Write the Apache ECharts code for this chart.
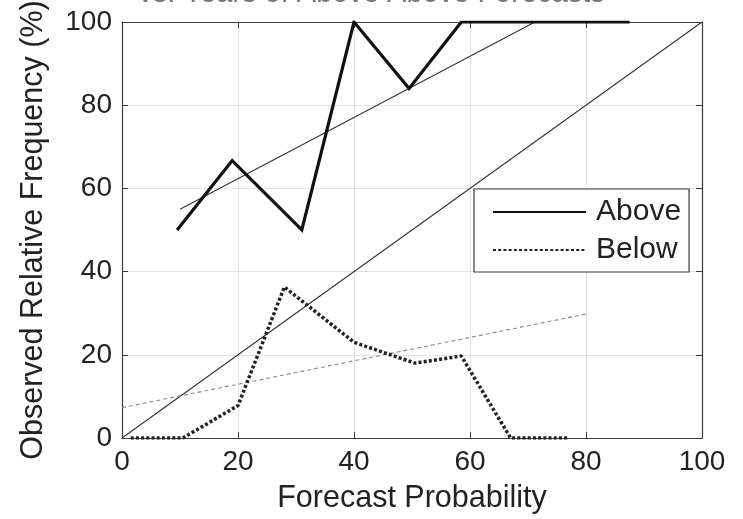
<!DOCTYPE html>
<html>
<head>
<meta charset="utf-8">
<script src="https://cdn.jsdelivr.net/npm/echarts@6/dist/echarts.min.js"></script>
<style>
  html, body { margin: 0; padding: 0; background: #fff; }
  #chart { width: 743px; height: 519px; }
</style>
</head>
<body>
<div id="chart"></div>
<script>
// Reliability curves: observed frequency against forecast probability
const titleText = 'vs. Years of Above Above Forecasts';
const xTicks = [0, 20, 40, 60, 80, 100];
const yTicks = [0, 20, 40, 60, 80, 100];

const aboveX = [9.5, 19, 31, 40, 49.5, 58.5, 70, 79, 87.5];
const aboveY = [50, 66.7, 50, 100, 84, 100, 100, 100, 100];

const belowX = [1.5, 10.5, 20, 28, 40, 50.5, 58.5, 67, 77];
const belowY = [0, 0, 7.8, 36.3, 23, 18, 19.7, 0, 0];

// fit lines (end points)
const aboveFitX = [10, 71.2];
const aboveFitY = [55, 100];
const belowFitX = [0, 80];
const belowFitY = [7.3, 29.8];

// perfect reliability diagonal
const diagX = [0, 100];
const diagY = [0, 100];

const pairs = (xs, ys) => xs.map((x, i) => [x, ys[i]]);

const FONT = 'Liberation Sans, Arial, Helvetica, sans-serif';
const chart = echarts.init(document.getElementById('chart'), null, { renderer: 'canvas' });

const baseAxis = {
  type: 'value', min: 0, max: 100, interval: 20,
  axisLine: { show: true, onZero: false, lineStyle: { color: '#3a3a3a', width: 1.2 } },
  axisTick: { show: true, inside: true, length: 6, lineStyle: { color: '#3a3a3a' } },
};

chart.setOption({
  backgroundColor: '#ffffff',
  animation: false,
  title: {
    text: titleText, left: 'center', top: -26,
    textStyle: { fontFamily: FONT, fontSize: 29, fontWeight: 'normal', color: '#777' }
  },
  grid: { left: 122, right: 41, top: 22, bottom: 81, containLabel: false, outerBoundsMode: 'none' },
  legend: {
    data: ['Above', 'Below'],
    orient: 'vertical', left: 474, top: 189,
    backgroundColor: '#fff', borderColor: '#3a3a3a', borderWidth: 1.2,
    padding: [8, 8, 7, 18], itemGap: 8, itemWidth: 93, itemHeight: 14,
    itemStyle: { color: 'transparent', borderColor: 'transparent', borderWidth: 0, opacity: 0 },
    textStyle: { fontFamily: FONT, fontSize: 30, color: '#222', lineHeight: 30, padding: [0, 0, 0, 5] },
    selectedMode: false
  },
  xAxis: [
    Object.assign({}, baseAxis, {
      position: 'bottom',
      name: 'Forecast Probability', nameLocation: 'middle', nameGap: 45,
      nameTextStyle: { fontFamily: FONT, fontSize: 30.5, color: '#222' },
      axisLabel: { fontFamily: FONT, fontSize: 28, color: '#222', margin: 10,
        formatter: v => xTicks.includes(v) ? String(v) : '' },
      splitLine: { show: true, lineStyle: { color: '#e4e4e4', width: 1 } }
    }),
    Object.assign({}, baseAxis, {
      position: 'top', axisLabel: { show: false }, splitLine: { show: false }
    })
  ],
  yAxis: [
    Object.assign({}, baseAxis, {
      position: 'left',
      name: 'Observed Relative Frequency (%)', nameLocation: 'middle', nameGap: 73,
      nameTextStyle: { fontFamily: FONT, fontSize: 30.5, color: '#222' },
      axisLabel: { fontFamily: FONT, fontSize: 28, color: '#222', margin: 10,
        formatter: v => yTicks.includes(v) ? String(v) : '' },
      splitLine: { show: true, lineStyle: { color: '#e4e4e4', width: 1 } }
    }),
    Object.assign({}, baseAxis, {
      position: 'right', axisLabel: { show: false }, splitLine: { show: false }
    })
  ],
  series: [
    {
      name: 'diagonal', type: 'line', data: pairs(diagX, diagY),
      symbol: 'none', silent: true, z: 2,
      lineStyle: { color: '#333', width: 1.1 }
    },
    {
      name: 'Above fit', type: 'line', data: pairs(aboveFitX, aboveFitY),
      symbol: 'none', silent: true, z: 2,
      lineStyle: { color: '#333', width: 1.1 }
    },
    {
      name: 'Below fit', type: 'line', data: pairs(belowFitX, belowFitY),
      symbol: 'none', silent: true, z: 2,
      lineStyle: { color: '#888', width: 1.1, type: [4, 3] }
    },
    {
      name: 'Above', type: 'line', data: pairs(aboveX, aboveY),
      symbol: 'none', z: 3, color: '#111',
      lineStyle: { color: '#111', width: 3.2, join: 'miter' }
    },
    {
      name: 'Below', type: 'line', data: pairs(belowX, belowY),
      symbol: 'none', z: 3, color: '#222',
      lineStyle: { color: '#222', width: 3.5, type: [3, 2.2] }
    }
  ]
});
</script>
</body>
</html>
